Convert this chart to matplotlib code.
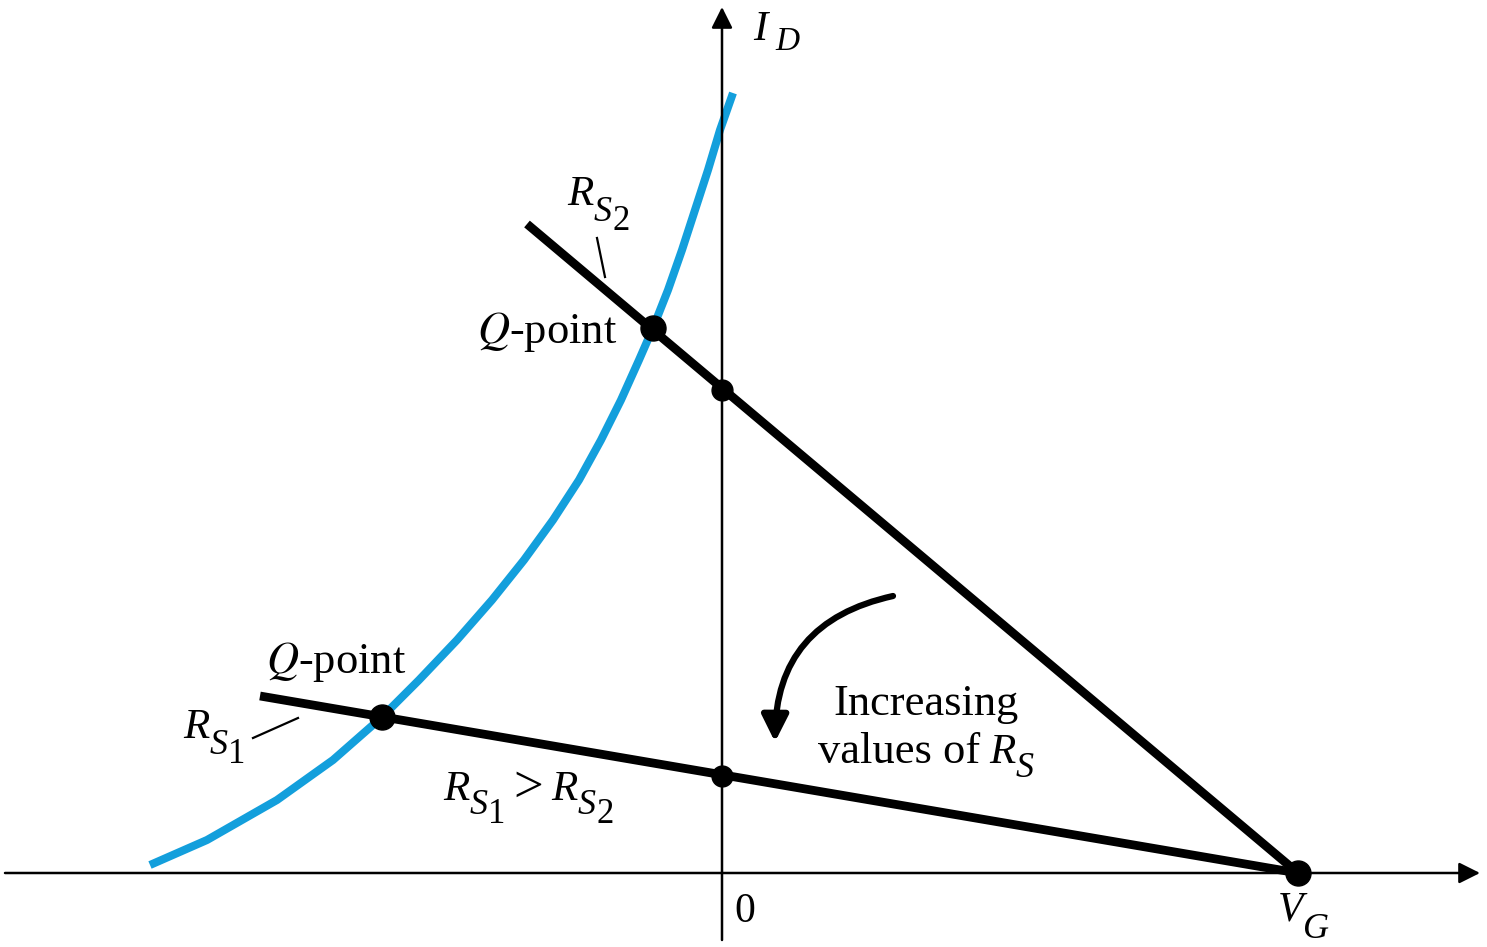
import matplotlib
matplotlib.use("Agg")
import matplotlib.pyplot as plt

plt.rcParams['font.family'] = ['Liberation Serif', 'DejaVu Serif']
plt.rcParams['mathtext.fontset'] = 'stix'

# Curva de transferencia (V_GS, I_D)
vgs = [-5.72, -5.15, -4.45, -3.89, -3.40, -3.03, -2.65, -2.30, -1.98, -1.69, -1.43,
       -1.21, -1.01, -0.83, -0.69, -0.54, -0.40, -0.27, -0.14, -0.02, 0.11]
i_d = [0.08, 0.33, 0.73, 1.13, 1.56, 1.93, 2.33, 2.73, 3.13, 3.53, 3.93,
       4.33, 4.73, 5.13, 5.45, 5.83, 6.23, 6.63, 7.03, 7.43, 7.80]

# Rectas de polarización (extremos)
vg = 5.76
rs2_x = [-1.95, vg]
rs2_y = [6.49, 0.0]
rs1_x = [-4.62, vg]
rs1_y = [1.77, 0.0]

# Puntos marcados
q_x = [-0.69, -3.40]
q_y = [5.45, 1.56]
cut_x = [0.0, 0.0]
cut_y = [4.83, 0.97]

fig = plt.figure(figsize=(14.87, 9.47), dpi=100)
ax = fig.add_axes([0, 0, 1, 1])
ax.set_xlim(-7.22, 7.65)
ax.set_ylim(-0.74, 8.73)
ax.set_axis_off()
renderer = fig.canvas.get_renderer()


def compose(x, y, parts):
    # escribe trozos de texto seguidos (letra, subíndice, sub-subíndice...)
    X, Y = ax.transData.transform((x, y))
    for s, size, style, dx, dy in parts:
        X += dx
        px, py = ax.transData.inverted().transform((X, Y - dy))
        t = ax.text(px, py, s, fontsize=size, style=style, ha='left', va='baseline')
        X = t.get_window_extent(renderer).x1


# Ejes con flecha
ax.annotate('', xy=(7.58, 0), xytext=(-7.17, 0),
            arrowprops=dict(arrowstyle='-|>', lw=1.8, color='k', mutation_scale=32,
                            shrinkA=0, shrinkB=0))
ax.annotate('', xy=(0, 8.66), xytext=(0, -0.67),
            arrowprops=dict(arrowstyle='-|>', lw=1.8, color='k', mutation_scale=32,
                            shrinkA=0, shrinkB=0))

ax.plot(vgs, i_d, color='#139fdc', lw=5.8, solid_capstyle='butt',
        solid_joinstyle='round', zorder=2)
ax.plot(rs2_x, rs2_y, color='k', lw=6.3, solid_capstyle='butt', zorder=3)
ax.plot(rs1_x, rs1_y, color='k', lw=6.3, solid_capstyle='butt', zorder=3)
ax.plot(q_x, q_y, 'o', color='k', ms=18, zorder=4)
ax.plot(cut_x, cut_y, 'o', color='k', ms=15, zorder=4)
ax.plot([vg], [0], 'o', color='k', ms=18, zorder=4)

# Marcas de las etiquetas
ax.plot([-1.25, -1.17], [6.35, 5.96], color='k', lw=1.6)
ax.plot([-4.69, -4.24], [1.35, 1.55], color='k', lw=1.6)

fs = 32
compose(0.31, 8.33, [('I', 31, 'italic', 0, 0), ('D', 24, 'italic', 8, 10)])
compose(-1.55, 6.68, [('R', 31, 'italic', 0, 0), ('S', 26, 'italic', 0, 16),
                      ('2', 25, 'normal', 1, 25)])
ax.text(-1.75, 5.41, r'$Q$-point', fontsize=fs, ha='center', va='center')
ax.text(-3.86, 2.11, r'$Q$-point', fontsize=fs, ha='center', va='center')
compose(-5.39, 1.35, [('R', 31, 'italic', 0, 0), ('S', 26, 'italic', 0, 16),
                      ('1', 25, 'normal', 1, 25)])
compose(-2.79, 0.73, [('R', 31, 'italic', 0, 0), ('S', 26, 'italic', 0, 14),
                      ('1', 25, 'normal', 1, 23), ('>', 38, 'normal', 8, 2),
                      ('R', 31, 'italic', 8, 0), ('S', 26, 'italic', 0, 14),
                      ('2', 25, 'normal', 1, 23)])
ax.text(2.04, 1.58, 'Increasing', fontsize=fs, ha='center', va='baseline')
compose(0.96, 1.10, [('values of', fs, 'normal', 0, 0), ('R', 31, 'italic', 9, 0),
                     ('S', 26, 'italic', 0, 14)])
ax.text(0.23, -0.39, '0', fontsize=30, ha='center', va='center')
compose(5.56, -0.47, [('V', 30, 'italic', 0, 0), ('G', 26, 'italic', 0, 18)])

# Flecha curva
ax.annotate('', xy=(0.53, 1.31), xytext=(1.71, 2.77),
            arrowprops=dict(arrowstyle='-|>', lw=4.5, color='k', mutation_scale=40,
                            shrinkA=0, shrinkB=0, connectionstyle='arc3,rad=0.4'))

fig.savefig('out.png', dpi=100)
